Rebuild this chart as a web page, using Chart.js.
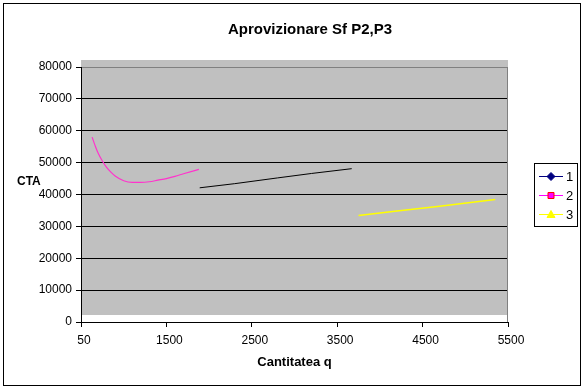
<!DOCTYPE html>
<html>
<head>
<meta charset="utf-8">
<script src="https://cdn.jsdelivr.net/npm/chart.js@4/dist/chart.umd.min.js"></script>
<style>
  html, body { margin: 0; padding: 0; background: #fff; }
  #wrap { width: 586px; height: 390px; position: relative; }
</style>
</head>
<body>
<div id="wrap"><canvas id="chart" width="586" height="390"></canvas></div>
<script>
// data
const seriesNames = ['1', '2', '3']
const q1 = [1890, 2300, 2800, 3200, 3670]
const cta1 = [42100, 43400, 45200, 46600, 48100]
const q2 = [630, 670, 700, 750, 800, 850, 900, 1000, 1100, 1200, 1300, 1400, 1500, 1600, 1700, 1880]
const cta2 = [58000, 55000, 53000, 50500, 48500, 47000, 45800, 44300, 43800, 43800, 44000, 44500, 45000, 45700, 46500, 47900]
const q3 = [3750, 4200, 4700, 5350]
const cta3 = [33400, 34800, 36300, 38400]
const xTickValues = [500, 1500, 2500, 3500, 4500, 5500]
const xTickLabels = ['50', '1500', '2500', '3500', '4500', '5500']

const FONT = "'Liberation Sans', Arial, sans-serif"

const toPoints = (xs, ys) => xs.map((x, i) => ({ x: x, y: ys[i] }))

// legend look (differs a little from the lines in the plot, like in the original)
const legendStyle = [
  { line: '#000080', marker: 'diamond', fill: '#000080', stroke: '#000080' },
  { line: '#FF00FF', marker: 'square', fill: '#FF00FF', stroke: '#FF0000' },
  { line: '#FFFF00', marker: 'triangle', fill: '#FFFF00', stroke: '#FFFF00' },
]

const decorPlugin = {
  id: 'decor',
  beforeDraw(chart) {
    const { ctx, chartArea: a } = chart
    ctx.save()
    // outer frame
    ctx.strokeStyle = '#000'
    ctx.lineWidth = 1
    ctx.strokeRect(3.5, 3.5, 577, 382)
    // grey plot wall, shifted up a bit
    ctx.fillStyle = '#C0C0C0'
    ctx.fillRect(a.left, a.top - 7, a.right - a.left, a.bottom - a.top)
    ctx.restore()
  },
  afterDraw(chart) {
    const { ctx, chartArea: a } = chart
    ctx.save()
    // right edge of plot
    ctx.strokeStyle = '#808080'
    ctx.beginPath()
    ctx.moveTo(Math.round(a.right) - 0.5, a.top)
    ctx.lineTo(Math.round(a.right) - 0.5, a.bottom)
    ctx.stroke()

    // title
    ctx.fillStyle = '#000'
    ctx.textBaseline = 'middle'
    ctx.textAlign = 'center'
    ctx.font = 'bold 15px ' + FONT
    ctx.fillText('Aprovizionare Sf P2,P3', 310, 30)
    // y title, horizontal
    ctx.font = 'bold 12px ' + FONT
    ctx.textAlign = 'left'
    ctx.fillText('CTA', 17, 182)

    // legend box
    const bx = 534.5, by = 163.5, bw = 43, bh = 63
    ctx.fillStyle = '#fff'
    ctx.fillRect(bx, by, bw, bh)
    ctx.strokeStyle = '#000'
    ctx.strokeRect(bx, by, bw, bh)
    chart.data.datasets.forEach((ds, i) => {
      const st = legendStyle[i]
      const y = 176 + i * 19
      ctx.strokeStyle = st.line
      ctx.lineWidth = 1
      ctx.beginPath()
      ctx.moveTo(539, y + 0.5)
      ctx.lineTo(563, y + 0.5)
      ctx.stroke()
      const cx = 551, cy = y + 0.5
      ctx.fillStyle = st.fill
      ctx.strokeStyle = st.stroke
      ctx.beginPath()
      if (st.marker === 'diamond') {
        ctx.moveTo(cx, cy - 4); ctx.lineTo(cx + 4, cy); ctx.lineTo(cx, cy + 4); ctx.lineTo(cx - 4, cy)
      } else if (st.marker === 'square') {
        ctx.rect(cx - 3, cy - 3, 6, 6)
      } else {
        ctx.moveTo(cx, cy - 4); ctx.lineTo(cx + 4, cy + 3); ctx.lineTo(cx - 4, cy + 3)
      }
      ctx.closePath()
      ctx.fill()
      ctx.stroke()
      ctx.fillStyle = '#000'
      ctx.font = '13px ' + FONT
      ctx.textAlign = 'left'
      ctx.fillText(ds.label, 566, y + 1)
    })
    ctx.restore()
  },
}

const onPageLoad = () => {
  new Chart(document.getElementById('chart'), {
    type: 'scatter',
    data: {
      datasets: [
        {
          label: seriesNames[0],
          data: toPoints(q1, cta1),
          borderColor: '#000000',
          borderWidth: 1,
          showLine: true,
          pointRadius: 0,
        },
        {
          label: seriesNames[1],
          data: toPoints(q2, cta2),
          borderColor: '#FF33CC',
          borderWidth: 1.2,
          showLine: true,
          pointRadius: 0,
          cubicInterpolationMode: 'monotone',
        },
        {
          label: seriesNames[2],
          data: toPoints(q3, cta3),
          borderColor: '#FFFF00',
          borderWidth: 1.5,
          showLine: true,
          pointRadius: 0,
        },
      ],
    },
    options: {
      responsive: false,
      animation: false,
      layout: { padding: { top: 67, right: 78, left: 0, bottom: 0 } },
      plugins: {
        legend: { display: false },
        title: { display: false },
        tooltip: { enabled: false },
      },
      scales: {
        x: {
          type: 'linear',
          min: 500,
          max: 5500,
          afterBuildTicks: (scale) => {
            scale.ticks = xTickValues.map((v) => ({ value: v }))
          },
          afterFit: (scale) => { scale.height = 68 },
          ticks: {
            callback: (v, i) => xTickLabels[i],
            color: '#000',
            font: { family: FONT, size: 12 },
            padding: 6,
            maxRotation: 0,
            labelOffset: 3,
          },
          grid: { drawOnChartArea: false, drawTicks: true, tickLength: 5, tickColor: '#000' },
          border: { display: true, color: '#000' },
          title: {
            display: true,
            text: 'Cantitatea q',
            color: '#000',
            font: { family: FONT, size: 13, weight: 'bold' },
            padding: { top: 0, bottom: 20 },
          },
        },
        y: {
          min: 0,
          max: 80000,
          afterFit: (scale) => { scale.width = 81 },
          ticks: {
            stepSize: 10000,
            callback: (v) => String(v),
            color: '#000',
            font: { family: FONT, size: 12 },
            padding: 4,
          },
          grid: {
            color: (c) => (c.tick && c.tick.value === 80000 ? '#808080' : '#000'),
            tickColor: '#000',
            tickLength: 5,
          },
          border: { display: true, color: '#000' },
        },
      },
    },
    plugins: [decorPlugin],
  })
}

document.addEventListener('DOMContentLoaded', onPageLoad)
</script>
</body>
</html>
